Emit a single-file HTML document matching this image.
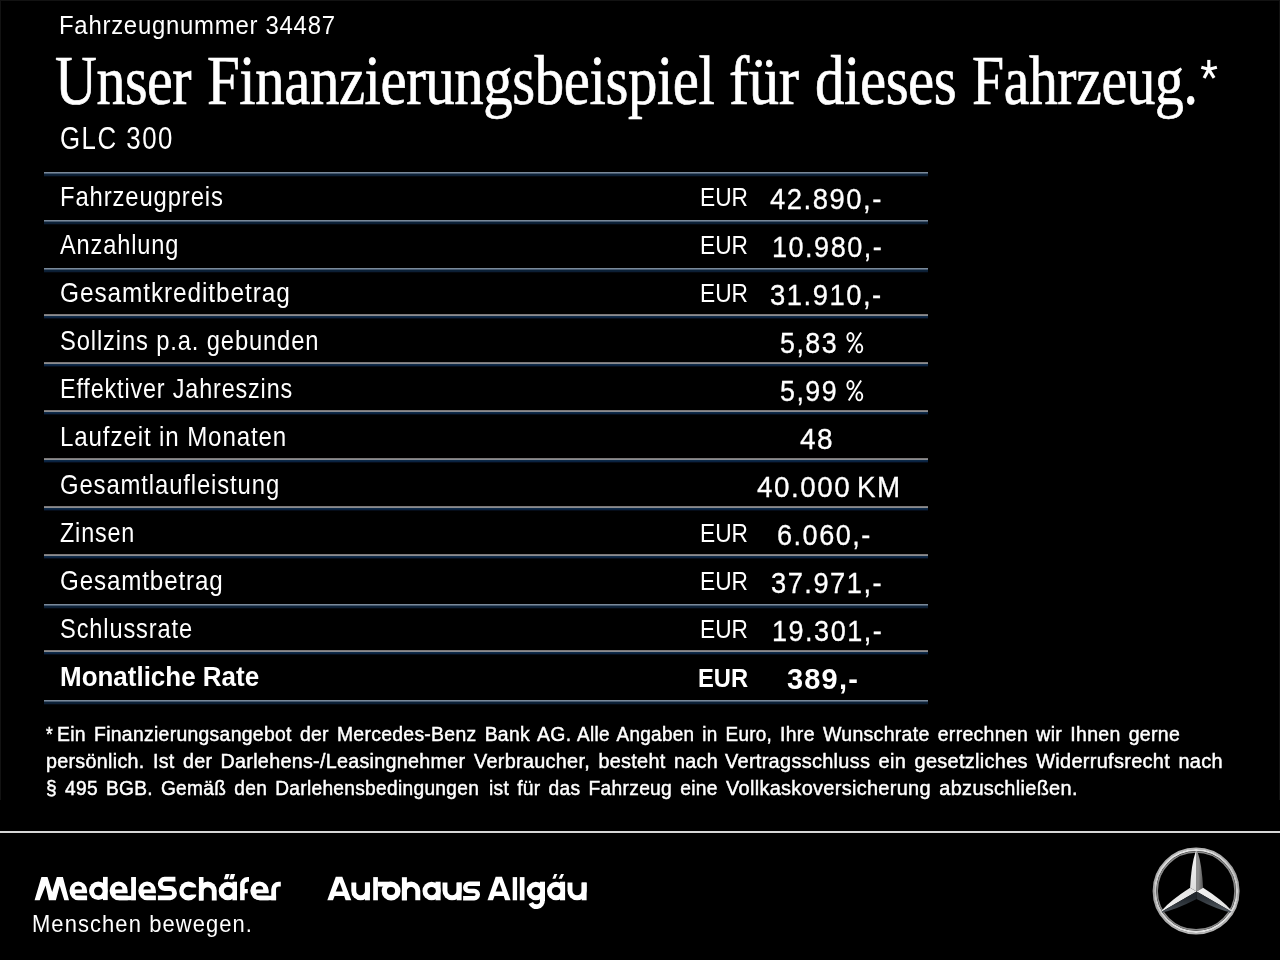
<!DOCTYPE html>
<html><head><meta charset="utf-8"><style>
html,body{margin:0;padding:0;background:#000;}
body{width:1280px;height:960px;position:relative;overflow:hidden;}
.t{position:absolute;white-space:nowrap;transform-origin:0 0;color:#fff;}
.ln{position:absolute;left:44px;width:884px;height:5px;}
.ln.b{background:linear-gradient(#7a8a9a 0,#7a8a9a 20%,#46586e 20%,#46586e 40%,#0c2238 40%,#0c2238 60%,#0c1e34 60%,#0c1e34 80%,#04080e 80%);}
.ln.g{background:linear-gradient(#7c7878 0,#7c7878 20%,#8a8c90 20%,#8a8c90 40%,#0e2a48 40%,#0e2a48 60%,#0a2240 60%,#0a2240 80%,#050c18 80%);}
.sep{position:absolute;left:0;top:831px;width:1280px;height:2px;background:#d6d6d6;}
.star{position:absolute;}
#w{position:absolute;left:0;top:0;width:1280px;height:960px;will-change:transform;}
</style></head><body><div id="w">
<div class="t" style="left:58.73px;top:12.48px;font-size:26px;line-height:26px;font-family:'Liberation Sans', sans-serif;font-weight:normal;letter-spacing:0.8px;transform:scaleX(0.9202);color:#fff;">Fahrzeugnummer 34487</div>
<div class="t" style="left:55.09px;top:45.88px;font-size:70px;line-height:70px;font-family:'Liberation Serif', serif;font-weight:normal;letter-spacing:-0.5px;transform:scaleX(0.8272);color:#fff;-webkit-text-stroke:0.7px #fff;">Unser</div>
<div class="t" style="left:207.13px;top:45.88px;font-size:70px;line-height:70px;font-family:'Liberation Serif', serif;font-weight:normal;letter-spacing:-0.5px;transform:scaleX(0.8404);color:#fff;-webkit-text-stroke:0.7px #fff;">Finanzierungsbeispiel</div>
<div class="t" style="left:729.43px;top:45.88px;font-size:70px;line-height:70px;font-family:'Liberation Serif', serif;font-weight:normal;letter-spacing:-0.5px;transform:scaleX(0.8662);color:#fff;-webkit-text-stroke:0.7px #fff;">für</div>
<div class="t" style="left:815.44px;top:45.88px;font-size:70px;line-height:70px;font-family:'Liberation Serif', serif;font-weight:normal;letter-spacing:-0.5px;transform:scaleX(0.8406);color:#fff;-webkit-text-stroke:0.7px #fff;">dieses</div>
<div class="t" style="left:972.16px;top:45.88px;font-size:70px;line-height:70px;font-family:'Liberation Serif', serif;font-weight:normal;letter-spacing:-0.5px;transform:scaleX(0.8247);color:#fff;-webkit-text-stroke:0.7px #fff;">Fahrzeug.</div>
<svg width="1280" height="120" style="position:absolute;left:0;top:0"><g stroke="#fff" stroke-width="3.2" fill="none"><path d="M1208.8,69.3 L1208.8,59.9"/><path d="M1208.8,69.3 L1201.3,67.2"/><path d="M1208.8,69.3 L1216.9,67.2"/><path d="M1208.8,69.3 L1204.1,77.9"/><path d="M1208.8,69.3 L1214.1,77.9"/></g></svg>
<div class="t" style="left:60.31px;top:123.47px;font-size:30.5px;line-height:30.5px;font-family:'Liberation Sans', sans-serif;font-weight:normal;letter-spacing:1.8px;transform:scaleX(0.8463);color:#fff;">GLC 300</div>
<div class="ln b" style="top:172px"></div>
<div class="ln b" style="top:220px"></div>
<div class="ln b" style="top:268px"></div>
<div class="ln g" style="top:314px"></div>
<div class="ln g" style="top:362px"></div>
<div class="ln g" style="top:410px"></div>
<div class="ln g" style="top:458px"></div>
<div class="ln g" style="top:506px"></div>
<div class="ln g" style="top:554px"></div>
<div class="ln b" style="top:604px"></div>
<div class="ln g" style="top:650px"></div>
<div class="ln b" style="top:700px"></div>
<div class="t" style="left:59.93px;top:183.21px;font-size:27.5px;line-height:27.5px;font-family:'Liberation Sans', sans-serif;font-weight:normal;letter-spacing:1.0px;transform:scaleX(0.8675);color:#fff;">Fahrzeugpreis</div>
<div class="t" style="left:60.44px;top:231.21px;font-size:27.5px;line-height:27.5px;font-family:'Liberation Sans', sans-serif;font-weight:normal;letter-spacing:1.0px;transform:scaleX(0.8586);color:#fff;">Anzahlung</div>
<div class="t" style="left:59.78px;top:279.21px;font-size:27.5px;line-height:27.5px;font-family:'Liberation Sans', sans-serif;font-weight:normal;letter-spacing:1.0px;transform:scaleX(0.8890);color:#fff;">Gesamtkreditbetrag</div>
<div class="t" style="left:59.93px;top:327.21px;font-size:27.5px;line-height:27.5px;font-family:'Liberation Sans', sans-serif;font-weight:normal;letter-spacing:1.0px;transform:scaleX(0.8637);color:#fff;">Sollzins p.a. gebunden</div>
<div class="t" style="left:60.32px;top:375.21px;font-size:27.5px;line-height:27.5px;font-family:'Liberation Sans', sans-serif;font-weight:normal;letter-spacing:1.0px;transform:scaleX(0.8499);color:#fff;">Effektiver Jahreszins</div>
<div class="t" style="left:60.26px;top:423.21px;font-size:27.5px;line-height:27.5px;font-family:'Liberation Sans', sans-serif;font-weight:normal;letter-spacing:1.0px;transform:scaleX(0.8769);color:#fff;">Laufzeit in Monaten</div>
<div class="t" style="left:59.81px;top:471.21px;font-size:27.5px;line-height:27.5px;font-family:'Liberation Sans', sans-serif;font-weight:normal;letter-spacing:1.0px;transform:scaleX(0.8684);color:#fff;">Gesamtlaufleistung</div>
<div class="t" style="left:60.24px;top:519.21px;font-size:27.5px;line-height:27.5px;font-family:'Liberation Sans', sans-serif;font-weight:normal;letter-spacing:1.0px;transform:scaleX(0.8482);color:#fff;">Zinsen</div>
<div class="t" style="left:59.79px;top:567.21px;font-size:27.5px;line-height:27.5px;font-family:'Liberation Sans', sans-serif;font-weight:normal;letter-spacing:1.0px;transform:scaleX(0.8785);color:#fff;">Gesamtbetrag</div>
<div class="t" style="left:59.94px;top:615.21px;font-size:27.5px;line-height:27.5px;font-family:'Liberation Sans', sans-serif;font-weight:normal;letter-spacing:1.0px;transform:scaleX(0.8597);color:#fff;">Schlussrate</div>
<div class="t" style="left:59.75px;top:662.71px;font-size:27.5px;line-height:27.5px;font-family:'Liberation Sans', sans-serif;font-weight:bold;transform:scaleX(0.9442);color:#fff;">Monatliche Rate</div>
<div class="t" style="left:699.83px;top:185.32px;font-size:25px;line-height:25px;font-family:'Liberation Sans', sans-serif;font-weight:normal;transform:scaleX(0.9079);color:#fff;">EUR</div>
<div class="t" style="left:699.83px;top:233.32px;font-size:25px;line-height:25px;font-family:'Liberation Sans', sans-serif;font-weight:normal;transform:scaleX(0.9079);color:#fff;">EUR</div>
<div class="t" style="left:699.83px;top:281.32px;font-size:25px;line-height:25px;font-family:'Liberation Sans', sans-serif;font-weight:normal;transform:scaleX(0.9079);color:#fff;">EUR</div>
<div class="t" style="left:699.83px;top:521.33px;font-size:25px;line-height:25px;font-family:'Liberation Sans', sans-serif;font-weight:normal;transform:scaleX(0.9079);color:#fff;">EUR</div>
<div class="t" style="left:699.83px;top:569.33px;font-size:25px;line-height:25px;font-family:'Liberation Sans', sans-serif;font-weight:normal;transform:scaleX(0.9079);color:#fff;">EUR</div>
<div class="t" style="left:699.83px;top:617.33px;font-size:25px;line-height:25px;font-family:'Liberation Sans', sans-serif;font-weight:normal;transform:scaleX(0.9079);color:#fff;">EUR</div>
<div class="t" style="left:698.40px;top:665.83px;font-size:25px;line-height:25px;font-family:'Liberation Sans', sans-serif;font-weight:bold;transform:scaleX(0.9493);color:#fff;">EUR</div>
<div class="t" style="left:769.88px;top:185.44px;font-size:29px;line-height:29px;font-family:'Liberation Sans', sans-serif;font-weight:normal;letter-spacing:1.6px;transform:scaleX(0.9460);color:#fff;-webkit-text-stroke:0.3px #fff;">42.890,-</div>
<div class="t" style="left:772.17px;top:233.44px;font-size:29px;line-height:29px;font-family:'Liberation Sans', sans-serif;font-weight:normal;letter-spacing:1.6px;transform:scaleX(0.9333);color:#fff;-webkit-text-stroke:0.3px #fff;">10.980,-</div>
<div class="t" style="left:769.97px;top:281.44px;font-size:29px;line-height:29px;font-family:'Liberation Sans', sans-serif;font-weight:normal;letter-spacing:1.6px;transform:scaleX(0.9453);color:#fff;-webkit-text-stroke:0.3px #fff;">31.910,-</div>
<div class="t" style="left:780.13px;top:328.94px;font-size:29px;line-height:29px;font-family:'Liberation Sans', sans-serif;font-weight:normal;letter-spacing:1.6px;transform:scaleX(0.9250);color:#fff;-webkit-text-stroke:0.3px #fff;">5,83</div>
<div class="t" style="left:780.13px;top:376.94px;font-size:29px;line-height:29px;font-family:'Liberation Sans', sans-serif;font-weight:normal;letter-spacing:1.6px;transform:scaleX(0.9261);color:#fff;-webkit-text-stroke:0.3px #fff;">5,99</div>
<div class="t" style="left:800.47px;top:424.94px;font-size:29px;line-height:29px;font-family:'Liberation Sans', sans-serif;font-weight:normal;letter-spacing:1.6px;transform:scaleX(0.9654);color:#fff;-webkit-text-stroke:0.3px #fff;">48</div>
<div class="t" style="left:756.68px;top:472.94px;font-size:29px;line-height:29px;font-family:'Liberation Sans', sans-serif;font-weight:normal;letter-spacing:1.6px;transform:scaleX(0.9576);color:#fff;-webkit-text-stroke:0.3px #fff;">40.000</div>
<div class="t" style="left:857.22px;top:472.94px;font-size:29px;line-height:29px;font-family:'Liberation Sans', sans-serif;font-weight:normal;letter-spacing:1.6px;transform:scaleX(0.9550);color:#fff;-webkit-text-stroke:0.3px #fff;">KM</div>
<div class="t" style="left:776.65px;top:520.94px;font-size:29px;line-height:29px;font-family:'Liberation Sans', sans-serif;font-weight:normal;letter-spacing:1.6px;transform:scaleX(0.9338);color:#fff;-webkit-text-stroke:0.3px #fff;">6.060,-</div>
<div class="t" style="left:770.58px;top:568.94px;font-size:29px;line-height:29px;font-family:'Liberation Sans', sans-serif;font-weight:normal;letter-spacing:1.6px;transform:scaleX(0.9401);color:#fff;-webkit-text-stroke:0.3px #fff;">37.971,-</div>
<div class="t" style="left:772.17px;top:617.44px;font-size:29px;line-height:29px;font-family:'Liberation Sans', sans-serif;font-weight:normal;letter-spacing:1.6px;transform:scaleX(0.9333);color:#fff;-webkit-text-stroke:0.3px #fff;">19.301,-</div>
<div class="t" style="left:787.35px;top:664.94px;font-size:29px;line-height:29px;font-family:'Liberation Sans', sans-serif;font-weight:bold;letter-spacing:1.2px;transform:scaleX(0.9984);color:#fff;">389,-</div>
<svg width="1280" height="960" style="position:absolute;left:0;top:0"><g fill="none" stroke="#fff" stroke-width="1.9"><ellipse cx="850.45" cy="337.1" rx="3.1" ry="4.05"/><ellipse cx="859.3" cy="348.3" rx="2.95" ry="4.05"/><path d="M861.1,332.6 L848.7,352.6"/><ellipse cx="850.45" cy="385.1" rx="3.1" ry="4.05"/><ellipse cx="859.3" cy="396.3" rx="2.95" ry="4.05"/><path d="M861.1,380.6 L848.7,400.6"/></g></svg>
<div class="t" style="left:45.80px;top:724.98px;font-size:19.5px;line-height:19.5px;font-family:'Liberation Sans', sans-serif;font-weight:normal;letter-spacing:0.3px;transform:scaleX(0.8812);color:#fff;-webkit-text-stroke:0.45px #fff;word-spacing:2.5px;">*</div>
<div class="t" style="left:57.40px;top:724.98px;font-size:19.5px;line-height:19.5px;font-family:'Liberation Sans', sans-serif;font-weight:normal;letter-spacing:0.3px;transform:scaleX(0.9934);color:#fff;-webkit-text-stroke:0.45px #fff;word-spacing:2.5px;">Ein Finanzierungsangebot der Mercedes-Benz Bank AG.</div>
<div class="t" style="left:577.45px;top:724.98px;font-size:19.5px;line-height:19.5px;font-family:'Liberation Sans', sans-serif;font-weight:normal;letter-spacing:0.3px;transform:scaleX(0.9692);color:#fff;-webkit-text-stroke:0.45px #fff;word-spacing:2.5px;">Alle Angaben in Euro,</div>
<div class="t" style="left:780.10px;top:724.98px;font-size:19.5px;line-height:19.5px;font-family:'Liberation Sans', sans-serif;font-weight:normal;letter-spacing:0.3px;transform:scaleX(0.9987);color:#fff;-webkit-text-stroke:0.45px #fff;word-spacing:2.5px;">Ihre Wunschrate errechnen wir Ihnen gerne</div>
<div class="t" style="left:46.22px;top:751.98px;font-size:19.5px;line-height:19.5px;font-family:'Liberation Sans', sans-serif;font-weight:normal;letter-spacing:0.3px;transform:scaleX(1.0100);color:#fff;-webkit-text-stroke:0.45px #fff;word-spacing:2.5px;">persönlich. Ist der Darlehens-/Leasingnehmer</div>
<div class="t" style="left:473.65px;top:751.98px;font-size:19.5px;line-height:19.5px;font-family:'Liberation Sans', sans-serif;font-weight:normal;letter-spacing:0.3px;transform:scaleX(1.0166);color:#fff;-webkit-text-stroke:0.45px #fff;word-spacing:2.5px;">Verbraucher, besteht nach</div>
<div class="t" style="left:724.90px;top:751.98px;font-size:19.5px;line-height:19.5px;font-family:'Liberation Sans', sans-serif;font-weight:normal;letter-spacing:0.3px;transform:scaleX(1.0217);color:#fff;-webkit-text-stroke:0.45px #fff;word-spacing:2.5px;">Vertragsschluss ein gesetzliches Widerrufsrecht nach</div>
<div class="t" style="left:45.90px;top:778.98px;font-size:19.5px;line-height:19.5px;font-family:'Liberation Sans', sans-serif;font-weight:normal;letter-spacing:0.3px;transform:scaleX(0.9819);color:#fff;-webkit-text-stroke:0.45px #fff;word-spacing:2.5px;">§ 495 BGB. Gemäß den Darlehensbedingungen</div>
<div class="t" style="left:488.70px;top:778.98px;font-size:19.5px;line-height:19.5px;font-family:'Liberation Sans', sans-serif;font-weight:normal;letter-spacing:0.3px;transform:scaleX(0.9852);color:#fff;-webkit-text-stroke:0.45px #fff;word-spacing:2.5px;">ist für das Fahrzeug eine</div>
<div class="t" style="left:725.50px;top:778.98px;font-size:19.5px;line-height:19.5px;font-family:'Liberation Sans', sans-serif;font-weight:normal;letter-spacing:0.3px;transform:scaleX(1.0229);color:#fff;-webkit-text-stroke:0.45px #fff;word-spacing:2.5px;">Vollkaskoversicherung abzuschließen.</div>
<div class="sep"></div>
<div style="position:absolute;left:0;top:0;width:1280px;height:1px;background:#121212"></div>
<div style="position:absolute;left:0;top:0;width:1px;height:800px;background:#121212"></div>
<div style="position:absolute;left:1279px;top:0;width:1px;height:800px;background:#121212"></div>
<svg class="logo" width="1280" height="960" viewBox="0 0 1280 960" style="position:absolute;left:0;top:0"><path d="M34.60,900.30 L41.40,877.00 L47.50,877.00 L52.20,892.00 L56.80,877.00 L62.90,877.00 L69.00,900.30 L64.30,900.30 L59.70,885.50 L55.90,900.30 L48.90,900.30 L45.60,885.50 L39.70,900.30 Z" fill="#fff"/>
<path d="M87.10,890.85 A8.80 9.35 0 0 0 69.50,890.85 A8.80 9.35 0 0 0 78.30,900.20 H87.10 Z" fill="#fff"/>
<path d="M74.60,889.40 A3.7 3.7 0 0 1 82.00,889.40 Z" fill="#000"/>
<path d="M76.30,893.20 H87.70 V895.50 H76.30 A1.15 1.15 0 0 1 76.30,893.20 Z" fill="#000"/>
<ellipse cx="98.30" cy="890.75" rx="9.30" ry="9.35" fill="#fff"/>
<rect x="103.00" y="876.90" width="4.70" height="23.20" fill="#fff"/>
<ellipse cx="98.30" cy="891.10" rx="4.30" ry="4.30" fill="#000"/>
<path d="M127.80,890.85 A9.10 9.35 0 0 0 109.60,890.85 A9.10 9.35 0 0 0 118.70,900.20 H127.80 Z" fill="#fff"/>
<rect x="118.70" y="895.50" width="12.80" height="4.70" fill="#fff"/>
<path d="M115.00,889.40 A3.7 3.7 0 0 1 122.40,889.40 Z" fill="#000"/>
<path d="M116.70,893.20 H131.50 V895.50 H116.70 A1.15 1.15 0 0 1 116.70,893.20 Z" fill="#000"/>
<rect x="131.30" y="877.10" width="4.50" height="23.10" fill="#fff"/>
<rect x="127.80" y="881.00" width="3.50" height="14.50" fill="#000"/>
<rect x="131.30" y="877.10" width="4.50" height="23.10" fill="#fff"/>
<path d="M155.90,890.85 A8.80 9.35 0 0 0 138.30,890.85 A8.80 9.35 0 0 0 147.10,900.20 H155.90 Z" fill="#fff"/>
<path d="M143.40,889.40 A3.7 3.7 0 0 1 150.80,889.40 Z" fill="#000"/>
<path d="M145.10,893.20 H156.50 V895.50 H145.10 A1.15 1.15 0 0 1 145.10,893.20 Z" fill="#000"/>
<path d="M175.4,879.15 H164.7 A4.68 4.68 0 0 0 164.7,888.5 H170.1 A4.68 4.68 0 0 1 170.1,897.85 H157.9" fill="none" stroke="#fff" stroke-width="4.8" stroke-linecap="butt"/>
<ellipse cx="188.40" cy="891.00" rx="9.20" ry="9.40" fill="#fff"/>
<ellipse cx="188.10" cy="891.05" rx="4.50" ry="4.30" fill="#000"/>
<rect x="188.10" y="887.50" width="10.90" height="7.00" fill="#000"/>
<rect x="196.30" y="880.00" width="2.70" height="22.00" fill="#000"/>
<path d="M198.9,900.4 V890.5 A8.9 8.9 0 0 1 216.7,890.5 V900.4 Z" fill="#fff"/>
<path d="M203.5,902 V891.45 A4.15 4.15 0 0 1 211.8,891.45 V902 Z" fill="#000"/>
<rect x="198.90" y="877.00" width="4.60" height="23.40" fill="#fff"/>
<ellipse cx="227.85" cy="891.00" rx="9.15" ry="9.30" fill="#fff"/>
<rect x="232.40" y="881.70" width="4.60" height="18.60" fill="#fff"/>
<ellipse cx="228.20" cy="891.10" rx="4.40" ry="4.20" fill="#000"/>
<path d="M225.60,874.00 L229.70,874.00 L227.75,879.20 L223.90,879.20 Z" fill="#fff"/>
<path d="M230.80,874.00 L235.10,874.00 L233.50,879.20 L229.40,879.20 Z" fill="#fff"/>
<path d="M242.4,900.3 V884.6 A5.2 5.2 0 0 1 247.6,879.4 H249" fill="none" stroke="#fff" stroke-width="4.6" stroke-linecap="butt"/>
<rect x="244.00" y="889.00" width="3.80" height="4.30" fill="#fff"/>
<path d="M268.70,890.85 A9.20 9.35 0 0 0 250.30,890.85 A9.20 9.35 0 0 0 259.50,900.20 H268.70 Z" fill="#fff"/>
<rect x="259.50" y="895.50" width="16.60" height="4.70" fill="#fff"/>
<path d="M255.80,889.40 A3.7 3.7 0 0 1 263.20,889.40 Z" fill="#000"/>
<path d="M257.50,893.20 H276.10 V895.50 H257.50 A1.15 1.15 0 0 1 257.50,893.20 Z" fill="#000"/>
<path d="M273.65,900.3 V889.2 A5 5 0 0 1 278.65,884.2 H280.8" fill="none" stroke="#fff" stroke-width="4.8" stroke-linecap="butt"/>
<path d="M327.30,900.30 L335.80,876.80 L342.30,876.80 L351.30,900.30 L345.60,900.30 L344.20,896.00 L334.60,896.00 L333.00,900.30 Z" fill="#fff"/>
<path d="M339.60,882.30 L335.75,891.60 L342.90,891.60 Z" fill="#000"/>
<path d="M351.30,882.6 V891.00 A9.30 9.30 0 0 0 369.90,891.00 V882.6 Z" fill="#fff"/>
<path d="M356.25,882.1 V891.00 A4.35 4.35 0 0 0 364.95,891.00 V882.1 Z" fill="#000"/>
<rect x="364.95" y="882.60" width="4.95" height="17.70" fill="#fff"/>
<rect x="373.20" y="877.10" width="4.70" height="23.20" fill="#fff"/>
<rect x="377.90" y="881.70" width="13.10" height="4.90" fill="#fff"/>
<ellipse cx="391.10" cy="891.10" rx="9.50" ry="9.50" fill="#fff"/>
<ellipse cx="391.00" cy="891.10" rx="4.10" ry="4.00" fill="#000"/>
<path d="M401.90,900.3 V890.80 A9.20 9.20 0 0 1 420.30,890.80 V900.3 Z" fill="#fff"/>
<path d="M406.90,902.3 V891.10 A4.20 4.20 0 0 1 415.30,891.10 V902.3 Z" fill="#000"/>
<rect x="401.90" y="877.20" width="5.00" height="23.10" fill="#fff"/>
<ellipse cx="431.55" cy="891.00" rx="9.05" ry="9.30" fill="#fff"/>
<rect x="435.50" y="881.70" width="5.10" height="18.60" fill="#fff"/>
<ellipse cx="431.60" cy="891.10" rx="4.30" ry="4.20" fill="#000"/>
<path d="M442.50,882.6 V890.75 A9.55 9.55 0 0 0 461.60,890.75 V882.6 Z" fill="#fff"/>
<path d="M447.45,882.1 V890.75 A4.60 4.60 0 0 0 456.65,890.75 V882.1 Z" fill="#000"/>
<rect x="456.65" y="882.60" width="4.95" height="17.70" fill="#fff"/>
<path d="M480,883.8 H468.9 A3.6 3.6 0 0 0 468.9,891 H474.2 A3.6 3.6 0 0 1 474.2,898.2 H463.1" fill="none" stroke="#fff" stroke-width="4.5" stroke-linecap="butt"/>
<path d="M487.50,900.30 L495.68,876.80 L501.94,876.80 L510.60,900.30 L505.11,900.30 L503.77,896.00 L494.53,896.00 L492.99,900.30 Z" fill="#fff"/>
<path d="M499.34,882.30 L495.63,891.60 L502.51,891.60 Z" fill="#000"/>
<rect x="512.70" y="877.10" width="4.40" height="23.20" fill="#fff"/>
<rect x="519.80" y="877.10" width="4.70" height="23.20" fill="#fff"/>
<ellipse cx="535.90" cy="891.00" rx="9.10" ry="9.30" fill="#fff"/>
<rect x="539.90" y="881.70" width="5.10" height="18.60" fill="#fff"/>
<ellipse cx="535.90" cy="891.10" rx="4.30" ry="4.20" fill="#000"/>
<path d="M542.45,900.3 A6.1 6.1 0 0 1 530.8,903.1" fill="none" stroke="#fff" stroke-width="4.8" stroke-linecap="butt"/>
<rect x="539.90" y="895.00" width="5.10" height="6.00" fill="#fff"/>
<ellipse cx="556.05" cy="891.00" rx="9.05" ry="9.30" fill="#fff"/>
<rect x="560.00" y="881.70" width="5.10" height="18.60" fill="#fff"/>
<ellipse cx="556.10" cy="891.10" rx="4.30" ry="4.20" fill="#000"/>
<path d="M554.40,874.00 L557.30,874.00 L555.40,878.80 L552.40,878.80 Z" fill="#fff"/>
<path d="M561.10,874.00 L564.00,874.00 L561.80,878.80 L558.60,878.80 Z" fill="#fff"/>
<path d="M567.50,882.6 V890.75 A9.55 9.55 0 0 0 586.60,890.75 V882.6 Z" fill="#fff"/>
<path d="M572.45,882.1 V890.75 A4.60 4.60 0 0 0 581.65,890.75 V882.1 Z" fill="#000"/>
<rect x="581.65" y="882.60" width="4.95" height="17.70" fill="#fff"/></svg>
<div class="t" style="left:32.49px;top:911.67px;font-size:24px;line-height:24px;font-family:'Liberation Sans', sans-serif;font-weight:normal;letter-spacing:1.2px;transform:scaleX(0.9137);color:#fff;">Menschen bewegen.</div>
<svg class="star" width="100" height="100" viewBox="0 0 100 100" style="left:1146px;top:841px">
<defs>
<linearGradient id="rg" x1="0" y1="0" x2="0.25" y2="1">
<stop offset="0" stop-color="#ececec"/><stop offset="0.5" stop-color="#c4c4c4"/><stop offset="1" stop-color="#e2e2e2"/>
</linearGradient>
<linearGradient id="ftl" x1="0" y1="0" x2="0" y2="1"><stop offset="0" stop-color="#f6f6f6"/><stop offset="1" stop-color="#dcdcdc"/></linearGradient>
<linearGradient id="ftr" x1="0" y1="0" x2="1" y2="0.2"><stop offset="0.4" stop-color="#8e8e8e"/><stop offset="1" stop-color="#5e5e5e"/></linearGradient>
<linearGradient id="fllu" x1="0" y1="1" x2="1" y2="0"><stop offset="0" stop-color="#f0f0f0"/><stop offset="1" stop-color="#e4e4e4"/></linearGradient>
<linearGradient id="flld" x1="0" y1="0" x2="0" y2="1"><stop offset="0.3" stop-color="#20262c"/><stop offset="1" stop-color="#4a5158"/></linearGradient>
<linearGradient id="flru" x1="0" y1="0" x2="1" y2="1"><stop offset="0" stop-color="#f2f2f2"/><stop offset="1" stop-color="#e0e0e0"/></linearGradient>
<linearGradient id="flrd" x1="0" y1="0" x2="0" y2="1"><stop offset="0.3" stop-color="#2c3238"/><stop offset="1" stop-color="#545b62"/></linearGradient>
</defs>
<circle cx="50.10" cy="49.90" r="42.6" fill="none" stroke="url(#rg)" stroke-width="1.8" opacity="0.8"/>
<circle cx="50.10" cy="49.90" r="40.9" fill="none" stroke="url(#rg)" stroke-width="2.2"/>
<circle cx="50.10" cy="49.90" r="38.9" fill="none" stroke="#8a8a8a" stroke-width="1.5"/>
<path d="M50.60,50.60 L44.10,46.85 Q45.20,23.60 49.70,10.40 L50.60,10.10 Z" fill="url(#ftl)"/>
<path d="M50.60,50.60 L57.09,46.85 Q56.00,23.60 51.50,10.40 L50.60,10.10 Z" fill="url(#ftr)"/>
<path d="M50.60,50.60 L44.10,46.85 Q24.52,59.42 15.34,69.92 L15.53,70.85 Z" fill="url(#fllu)"/>
<path d="M50.60,50.60 L50.60,58.10 Q29.92,68.78 16.24,71.48 L15.53,70.85 Z" fill="url(#flld)"/>
<path d="M50.60,50.60 L57.10,46.85 Q76.68,59.42 85.86,69.92 L85.67,70.85 Z" fill="url(#flru)"/>
<path d="M50.60,50.60 L50.60,58.10 Q71.28,68.78 84.96,71.48 L85.67,70.85 Z" fill="url(#flrd)"/>
</svg>
</div></body></html>
